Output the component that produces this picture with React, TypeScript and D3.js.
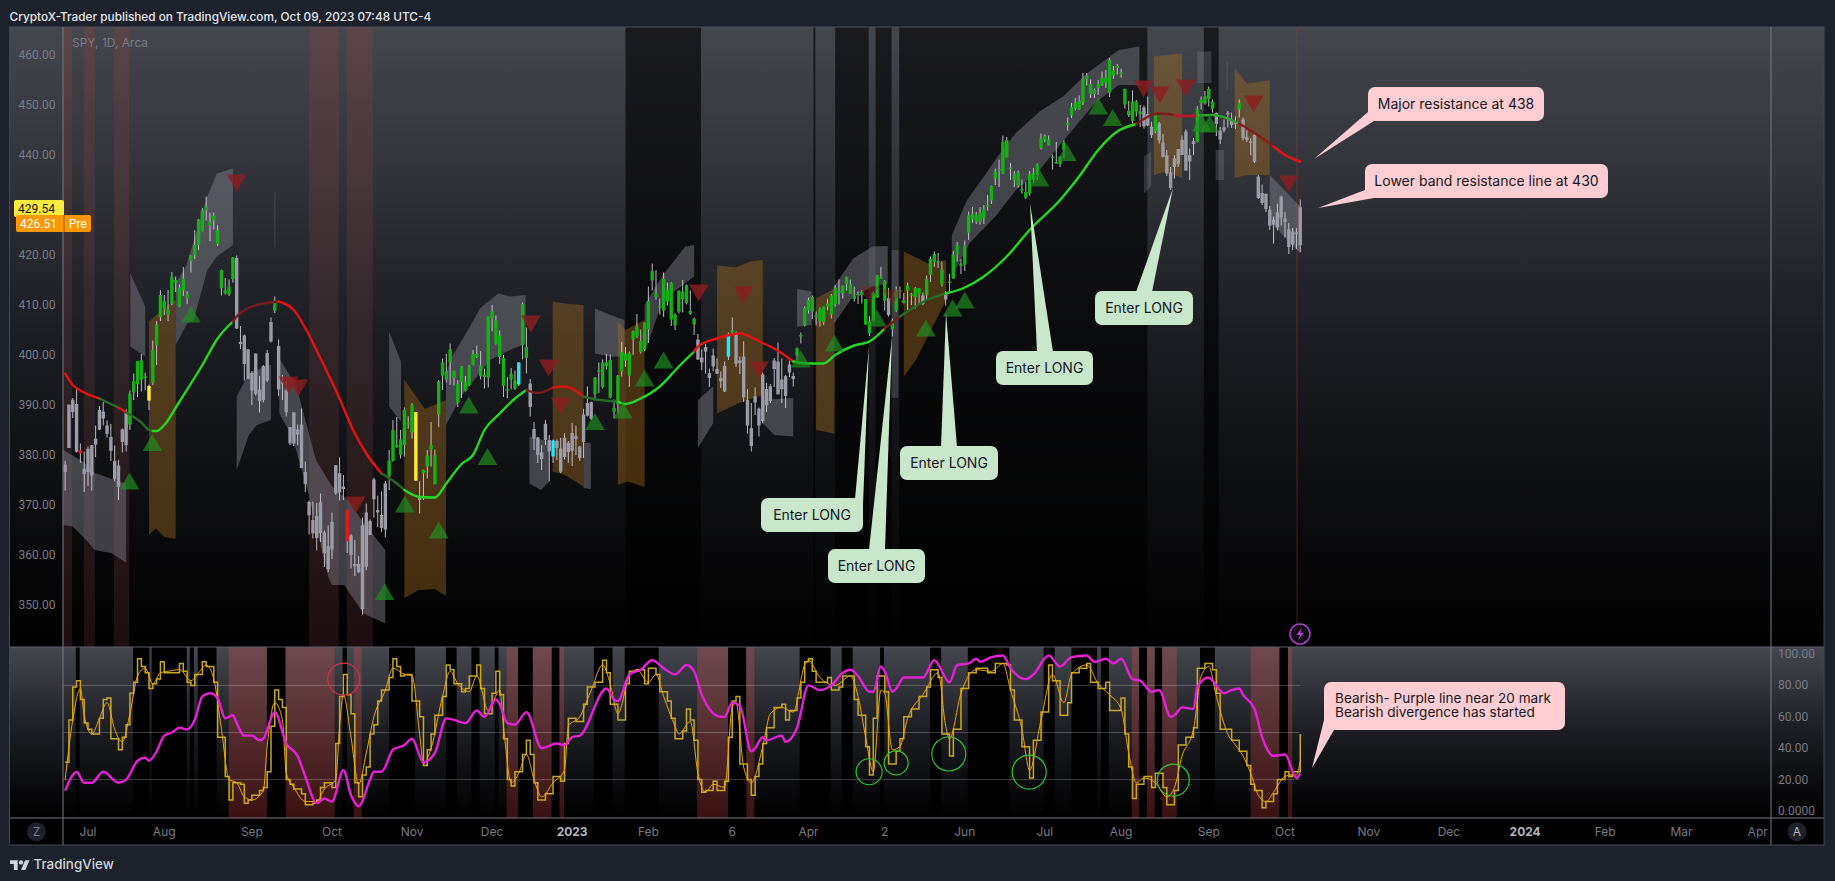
import React from "react";
import * as d3 from "d3";

type P = [number, number];
type Band = { top: P[]; bottom: P[]; tone: "grey" | "orange" | "faint" };

// ---- daily candles [open, high, low, close], bar numbers start at -6 (Jun 23 2022), 0 = Jul 1 2022
const barsJun22 = [[376.6,378.8,372.9,378.06],[381.4,390.1,381.4,390.08],[391.05,391.4,387.4,388.59],[390.2,393.2,380.5,380.65],[381,382.3,378.4,380.34],[376.2,380.7,372.6,377.25]];
const barsJul22 = [[376.6,381.7,373.8,381.24],[375.9,381.98,372.9,381.96],[382.1,385.9,379.6,383.25],[385.1,389.8,385,388.99],[387.3,390.6,385.9,388.67],[385.9,386.9,383.5,384.23],[383.6,386.2,378.8,380.83],[375.1,381.9,374.7,378.83],[373.6,379.05,371,377.91],[382.6,385.3,380.5,385.13],[388.4,389.1,380.7,381.95],[386.1,392.9,385,392.27],[392.5,396.3,391,394.77],[394.2,398.8,391.6,398.79],[398.9,400.2,392.7,395.09],[395.7,396.5,393,395.57],[393.8,394.1,389,390.89],[394.4,402.9,394,401.04],[401.9,406.8,398,406.07],[407.6,413,406.8,411.99]];
const barsAug22 = [[409.2,412,408,410.77],[409.1,413,406.8,408.06],[410.3,416.6,410,415.63],[415,415.7,412.6,414.45],[409.7,414.1,409.6,413.47],[415.3,417.6,411.8,412.99],[412.2,412.75,410.2,411.35],[418.8,420,416.5,419.99],[422,424.95,419.2,419.99],[422,427.2,421,427.1],[424.8,429.4,424.7,428.86],[429,431.7,426.9,429.7],[425.9,428.5,422.8,426.65],[426.9,428.5,425.1,427.89],[424.98,426,421.8,422.14],[417,417.1,411.9,413.35],[412.9,415.4,412.1,412.35],[412.1,415.1,411.8,413.67],[415.2,419.6,414.5,419.51],[419.4,419.9,405.2,405.31],[402.2,405.8,401.2,402.63],[403.9,404.1,394.9,398.21],[401.1,401.2,395.6,395.18]];
const barsSep22 = [[392.9,396.8,390,396.42],[400.3,400.3,391.9,392.24],[393.1,395.8,388.5,390.76],[391,398,390.5,397.78],[394.9,401,394.6,400.38],[402.7,407.5,402.5,406.6],[408.8,411.7,408.4,410.97],[401.8,403.1,391.8,393.1],[394.5,396,391,394.6],[392.96,394.7,387.7,388.55],[382.3,385.6,382,385.56],[382.3,388.5,381.8,388.55],[385.1,386.1,382,384.09],[386.1,389.3,377.4,377.39],[376.6,378.7,372.6,374.22],[370.6,370.9,364.1,367.95],[367,370.7,363.3,364.31],[367.8,370.4,360.9,363.38],[364.4,372.3,362.6,370.53],[364.5,364.9,357.6,360.38],[361.8,365.9,356.6,357.18]];
const barsOct22 = [[361.1,368.5,359.2,366.61],[372.4,378,372,377.97],[372.5,379.5,370.9,376.35],[373.7,376,371,373.2],[368.96,368.96,360.4,362.79],[363.9,364.2,357.3,360.02],[358.2,363,355.8,357.74],[358.2,359.8,356.4,356.56],[349.2,367.5,348.1,365.97],[368.5,370.3,356.96,357.63],[364,367.1,364,366.82],[375.1,375.45,367.5,371.13],[368.98,371.85,365.6,368.5],[368,372.7,364.6,365.41],[365.1,374.8,363.5,374.29],[375.9,381,373,378.87],[378.8,387,378.7,384.92],[381.6,387.6,381.4,382.02],[383.1,385,379.3,379.98],[382,389.5,379.7,389.02],[386.4,387.75,385.3,386.21]];
const barsNov22 = [[390.1,390.4,383.3,384.52],[388.6,388.6,374.8,374.87],[371.5,374.8,368.3,371.01],[377,377.1,371,376.35],[377.7,381,375.3,379.95],[381.1,386.6,377.7,382],[379.9,381.1,374.5,374.13],[388,395,385.6,394.69],[395.9,399.3,393,398.51],[396.7,400.2,394.5,395.12],[401.1,402.3,394,398.49],[396.8,396.9,393.9,395.45],[390.5,394.95,389.6,394.24],[397.7,397.8,391.4,394.59],[394.6,395.8,392.7,392.83],[394,397.95,393.8,397.7],[398,401,397.9,400.2],[399.6,401.9,399.4,400.22],[397.9,400.8,395.1,395.75],[396.1,397.3,393.3,395.6],[395.5,407.7,393.5,407.68]];
const barsDec22 = [[408.8,410,404.8,407.38],[402.3,407.9,402.1,406.91],[403.95,404.9,398.2,399.59],[399.4,399.99,391.6,393.83],[392.9,395.6,391.4,393.16],[395.1,397.4,393.15,396.24],[394.9,396.9,393,393.28],[394.1,398.6,393.8,398.51],[410.2,410.5,399.1,401.97],[401.6,405.5,396.3,399.4],[394.3,395.2,387.7,389.63],[385.2,386.6,381,383.27],[383.5,383.6,378.4,380.02],[379.2,382,377,380.54],[383,387,382,386.23],[383,384,374.8,380.72],[379.7,383.1,378.4,382.91],[382.8,383.1,379,381.4],[381.3,383.4,376.4,376.66],[379.6,384.35,379.1,383.44],[380.6,382.8,378.4,382.43]];
const barsJan23 = [[384.4,386.4,377.8,380.82],[383.2,385.9,380,383.76],[381.7,381.8,378.8,379.38],[382.6,389.25,379.4,388.08],[390.4,393.7,387.7,387.86],[387.25,390.7,386.98,390.58],[392.2,395.6,391.4,395.52],[396.7,398.5,392.4,396.96],[393.6,399.1,393.3,398.5],[398.5,400.2,397.1,397.77],[399,400.1,391.3,391.49],[389.4,391.1,387.3,388.64],[390.1,396,388.4,395.88],[396.7,402.6,395.7,400.63],[398.9,401.6,397.6,400.2],[395.9,400.7,393.6,400.35],[403.1,404.9,400,404.75],[403.7,408.2,403.4,405.68],[402.8,405.1,400.3,400.59],[401.1,406.5,400.8,406.48]];
const barsFeb23 = [[405.2,413.7,402.4,410.8],[414.9,418.3,412.9,416.78],[411.6,416.97,411.1,412.35],[409.8,411.3,408.1,409.83],[408.9,416.5,407.6,415.19],[413.1,414.5,409.9,410.65],[414.4,414.6,405.8,407.09],[405.9,408.4,405,408.04],[408.7,412.97,408.3,412.83],[411.2,415,408.5,412.64],[410.4,414.1,410.1,413.98],[408.8,412.9,408,408.28],[406.1,407.5,404,407.26],[403.1,404.2,399,399.09],[399.5,401.1,397,398.54],[401.6,402.2,396.3,400.66],[395.4,397.3,393.6,396.38],[399.9,401.3,396.75,397.73],[397.2,399.3,396.2,396.26]];
const barsMar23 = [[395.4,396.7,393.4,394.74],[392.7,398.7,392.6,397.81],[399.7,404.5,399,404.19],[405,407.5,404,404.47],[404.4,404.7,397.6,398.27],[398.4,399.7,396.2,398.92],[399.7,402.7,390.6,391.56],[390.99,393.2,384.3,385.91],[381.8,390.4,380.7,385.36],[390.5,393.5,388,391.73],[385.9,389.5,383.7,389.28],[386.8,396.5,386.3,396.11],[393.2,394.4,388.6,389.99],[390.8,394.2,390.4,393.74],[397.2,399.4,393.6,398.91],[398.7,402.5,392.6,392.11],[395.1,399.3,390.4,393.17],[391.8,396,389.4,395.75],[398.1,398.9,395.6,396.49],[395.8,396.5,393.7,395.17],[399.9,401.5,398.9,401.35],[404,404.5,402.3,403.7],[405.9,409.7,405.7,409.39]];
const barsApr23 = [[408.9,411.5,408.3,410.95],[411.6,411.9,407.2,408.67],[407.9,408.7,405.9,407.6],[406.8,409.5,405.7,409.19],[406.6,409.7,405.97,409.61],[410.3,411.2,408.9,409.72],[411.9,412.2,407.3,408.05],[410.1,413.96,409.7,413.47],[412.8,415.1,410.1,412.46],[412.4,413.9,411.3,413.94],[415.6,415.7,412.9,414.21],[412.2,415.1,412.2,414.14],[411.2,413.7,410.7,411.88],[412.2,412.7,410.2,412.2],[411.99,413,410.3,412.63],[411.2,411.2,406.1,406.08],[406.7,407.8,403.8,404.36],[407,412.7,406.7,412.41],[411.5,415.9,411.4,415.93]];
const barsMay23 = [[415.5,417.6,415.3,415.51],[414.8,414.97,408.9,410.84],[411.4,413.4,407.7,408.02],[406.9,407.3,403.7,405.13],[408.9,413.7,408.6,412.63],[412.97,413.7,411.3,412.87],[410.4,412.4,410.3,410.93],[413.9,414.5,408.9,412.85],[411.95,412.4,409.97,412.13],[413.4,413.6,409.3,411.59],[412.2,413.4,410.2,413.35],[411.9,412.5,409.97,410.2],[412,415.9,411.1,415.22],[416,419.7,414.6,419.23],[420.2,420.7,417.6,418.62],[418.6,420.4,417.4,418.79],[417.1,418.7,413.7,414.09],[412.4,412.8,409.9,411.09],[414.7,416.2,412.4,414.65],[415.3,420.8,415.2,420.02],[422,422.6,418.7,420.18],[418.3,419.2,416.2,417.85]];
const barsJun23 = [[418.1,422.9,416.8,421.82],[424.5,428.7,423,427.92],[428.3,429.6,426.4,427.1],[426.7,428.6,426.2,428.03],[428.4,429.6,426.1,426.55],[427.4,430,426.2,429.13],[429.96,431.99,428.9,429.9],[430.9,433.9,430.2,433.8],[435.3,437.3,434,436.66],[437,439.06,433.6,437.18],[436.3,443.9,436.2,442.6],[443,443.6,439.6,439.46],[437.5,438.4,435,437.18],[436.2,436.8,433.6,434.94],[433.9,436.9,433.5,436.51],[432.9,435.1,432.3,433.21],[432.6,434.6,431.2,431.44],[432.3,436.8,431.9,436.17],[435.05,437.4,434.4,436.39],[435.96,438.3,435,438.11],[441.4,444.3,441.1,443.28]];
const barsJul23 = [[442.9,444.1,442.6,443.79],[441.9,443.9,441.9,443.13],[439.4,440.1,437.1,439.66],[438.6,442.6,438.3,438.55],[438.2,439.8,437.6,439.66],[441,442.97,439.4,442.46],[446.4,447.5,444.9,446.02],[447.9,450.4,447.4,449.56],[450.5,451.4,448.9,449.28],[449.1,451.9,449,450.84],[450.5,456.4,450,455.2],[455.9,456.4,453.9,455.2],[454.2,455.1,451.4,452.18],[453,453.3,451.4,452.18],[453.4,455,452,454.2],[453.9,456.7,453.8,455.44],[454.5,456.99,453.4,455.51],[459,459.4,451.6,452.49],[455.9,457.8,455.2,456.92],[457.4,458.2,456.1,457.79]];
const barsAug23 = [[456.3,457.25,455.5,456.48],[453.2,453.3,449.3,450.13],[448,450.8,447.6,448.84],[450.7,452.9,446.3,446.81],[448.7,451,447.7,450.71],[448.1,450,445.6,448.75],[449.5,449.9,445.3,445.75],[448.2,451.7,445.8,445.91],[443.97,446.7,443.4,445.65],[444.7,448.1,444.38,448.11],[446.3,446.6,442.3,442.89],[442.5,444.2,439.5,439.64],[439.95,441,435.8,436.29],[433.4,437.6,433,436.5],[437.6,439.97,435.3,439.34],[441.2,441.2,437.6,438.15],[440,443.9,439.97,443.03],[444.7,445.1,436.9,436.89],[438.7,441.3,435,439.97],[442.2,443.4,439.97,442.76],[442.6,449.8,442.5,449.16],[450.4,451.7,449.1,451.01],[451.7,452.8,450.1,450.35]];
const barsSep23 = [[453.2,453.7,449.7,451.19],[450.7,451.1,448.5,449.24],[448.4,448.5,443.8,446.22],[443.1,445.6,442.2,444.85],[444.9,447.1,444.5,445.52],[448.2,448.8,445.5,448.45],[446.95,448.5,445.4,445.99],[446.2,447.7,445.2,446.51],[449.1,451.1,447.5,450.36],[447.1,447.5,442.9,443.37],[443,444.97,442.6,443.63],[442.7,443.3,439.97,442.71],[444,444.4,438.4,438.64],[435.7,435.97,431.2,431.39],[432.4,434.1,430,430.42],[429.2,432.3,428.6,432.23],[429.1,429.8,425,425.88],[427.1,427.7,422.3,426.05],[425.5,430.25,424.9,428.52],[431.7,431.85,425.9,427.48]];
const barsOct23 = [[426.6,428.6,423.5,427.31],[425.1,426.4,420.2,421.59],[422.1,425.4,420.98,424.66],[424.4,425.4,421.2,424.5],[421.97,431.1,420.6,429.54]];
const allBars = [barsJun22,barsJul22,barsAug22,barsSep22,barsOct22,barsNov22,barsDec22,barsJan23,barsFeb23,barsMar23,barsApr23,barsMay23,barsJun23,barsJul23,barsAug23,barsSep23,barsOct23].flat();
const FIRST_BAR = -6;

const greenRanges: P[] = [[11,15],[17,38],[49,49],[79,85],[88,112],[114,115],[133,159],[169,169],[186,209],[211,218],[220,224],[226,276],[280,280],[291,295],[302,302]];
const yellowBars = [16, 86];
const cyanBars = [113, 122, 168];
const redBars = [-2, 68];

// ---- trend line pieces
const trendRed1: P[] = [[-6,396.3],[-4,394],[-1,392.5],[3,391.3]];
const trendFade1: P[] = [[3,391.3],[6,390.2],[8,389.5]];
const trendRed2: P[] = [[8,389.5],[10,388.5]];
const trendFade2: P[] = [[10,388.5],[14,386.5],[16,385],[17,384.8]];
const trendGreen1: P[] = [[17,384.8],[18,384.8],[20,386],[24,390.7],[30,398],[34,403.3],[38,406.7]];
const trendDim1: P[] = [[38,406.7],[39,407.7],[43,409.7],[50,410.7]];
const trendRed3: P[] = [[50,410.7],[54,409],[57,405.4],[61,399.3],[65,393],[70,384.3],[73,380.3],[77,376.3]];
const trendFade3: P[] = [[77,376.3],[81,374.3],[83,373]];
const trendGreen2: P[] = [[83,373],[87,371.6],[91,371.5],[94,374.3],[98,378.2],[101,380],[104,385],[108,388.3],[112,391.3],[115,393]];
const trendDim2: P[] = [[115,393],[118,392.4],[122,393.5]];
const trendRed4: P[] = [[122,393.5],[125,393.7],[130,391.7]];
const trendFade4: P[] = [[130,391.7],[132,391.3],[139,390.7]];
const trendGreen3: P[] = [[139,390.7],[141,390.2],[145,391.3],[150,393.7],[155,397.7],[159,400.7]];
const trendRed5: P[] = [[159,400.7],[160,401.7],[165,403.3],[171,404.3],[177,402.4],[180,401.3],[185,398.7]];
const trendGreen4: P[] = [[185,398.7],[189,398.3],[193,398.3],[196,400],[201,401.9],[205,402.7],[209,405.3]];
const trendDim3: P[] = [[209,405.3],[213,407.7]];
const trendFade5: P[] = [[213,407.7],[217,409.7],[221,411.3],[225,412.3]];
const trendGreen5: P[] = [[225,412.3],[230,413.5],[235,415.7],[241,419.7],[247,425],[255,431],[260,435.7],[265,441],[270,444.7],[275,446.2]];
const trendDim4: P[] = [[275,446.2],[281,448.3],[285,448]];
const trendRed7: P[] = [[285,448],[287,447.8],[291,447.9]];
const trendGreen6: P[] = [[291,447.9],[295,448],[302,446.3]];
const trendDim5: P[] = [[302,446.3],[306,444.4],[311,441.7]];
const trendRed6: P[] = [[311,441.7],[314,440],[318,438.7]];
const trendPieces: [P[], string][] = [
  [trendRed1,"#e61212"],[trendFade1,"#2a6e2a"],[trendRed2,"#e61212"],[trendFade2,"#256b25"],[trendGreen1,"#24d824"],[trendDim1,"#7a1c1c"],[trendRed3,"#e61212"],[trendFade3,"#256b25"],[trendGreen2,"#24d824"],[trendDim2,"#7a1c1c"],[trendRed4,"#d81414"],[trendFade4,"#256b25"],[trendGreen3,"#24d824"],[trendRed5,"#e61212"],[trendGreen4,"#24d824"],[trendDim3,"#7a1c1c"],[trendFade5,"#256b25"],[trendGreen5,"#24d824"],[trendDim4,"#7a1c1c"],[trendRed7,"#c41424"],[trendGreen6,"#2aa52a"],[trendDim5,"#8f1a1a"],[trendRed6,"#e61212"],
];

// ---- band fragments
const bands: Band[] = [
  { tone:"grey", top:[[-6.5,381],[-1.3,378.7],[1.8,376.4],[7,375],[10,374.3]], bottom:[[-6.5,366],[-4,365.7],[-1.3,363.7],[1.8,361],[6,360.4],[10,358.5]] },
  { tone:"grey", top:[[11.1,416.3],[15,409.7]], bottom:[[11.1,401.7],[15,399.7]] },
  { tone:"grey", top:[[23,414.3],[25.7,417.7],[31.3,431.7],[33.8,436.3],[38,437.3]], bottom:[[23,402],[26,406.3],[27.7,407],[31.3,417],[33.8,419.7],[38,422]] },
  { tone:"orange", top:[[16,406.7],[20.5,409.7],[23,411]], bottom:[[16,364],[17.8,365.3],[20,363.6],[23,363.2]] },
  { tone:"grey", top:[[39,391.7],[42.2,396.3],[47.4,398],[48,398]], bottom:[[39,377],[42.2,384],[44.3,386],[48,387]] },
  { tone:"faint", top:[[48.9,432.5],[49.15,432.5]], bottom:[[48.9,421.5],[49.15,421.5]] },
  { tone:"grey", top:[[50.2,399.3],[54.7,393.7],[59.8,379],[64,373.7],[68.2,371],[72.3,366.4],[78,361]], bottom:[[50.2,388.3],[53.6,383.7],[57.8,372.3],[63,355.7],[64,354],[67.2,354],[72.3,348.3],[78,346.3]] },
  { tone:"grey", top:[[79,404.7],[82.1,398.7]], bottom:[[79,389.7],[82.1,386.7]] },
  { tone:"orange", top:[[83,395],[88.4,389.2],[93.9,391]], bottom:[[83,351.4],[86.8,353],[91,353.2],[93.9,351.8]] },
  { tone:"grey", top:[[93.9,396],[95,399],[100.2,405.7],[102.8,409.3],[107.6,412.3],[110.7,411.7],[114.8,412]], bottom:[[93.9,386],[98.1,392],[105.5,399],[110.7,401],[114.8,402.3]] },
  { tone:"grey", top:[[115.8,383.7],[121,382.7]], bottom:[[115.8,374.3],[118.8,373],[121,374.7]] },
  { tone:"orange", top:[[121.9,410.7],[125,410.3],[130,410]], bottom:[[121.9,376.7],[125.1,376],[130,373.7]] },
  { tone:"grey", top:[[130,382.4],[131.9,382.4]], bottom:[[130,373.4],[131.9,373.2]] },
  { tone:"grey", top:[[133,409.3],[137.1,408],[140.7,407]], bottom:[[133,400.3],[137.1,399.7],[140.7,399.7]] },
  { tone:"orange", top:[[139,406.7],[141,405],[146,407]], bottom:[[139,374],[141.6,374.7],[146,373.6]] },
  { tone:"grey", top:[[146,410],[150.8,416],[156.7,421.7],[159,422]], bottom:[[146,400.3],[150.8,411],[159,415.7]] },
  { tone:"grey", top:[[160,391],[164,393.7]], bottom:[[160,381.4],[164,386.4]] },
  { tone:"orange", top:[[165,417.9],[170,417.5],[173.7,418.7],[177,419]], bottom:[[165,388.3],[171.6,390.7],[177,392]] },
  { tone:"grey", top:[[177,391],[185,391.4]], bottom:[[177,386.4],[180,384],[185,383.7]] },
  { tone:"grey", top:[[186,413.2],[189.8,412.7]], bottom:[[186,405.7],[189.8,406]] },
  { tone:"orange", top:[[191,411.3],[195.8,413.3]], bottom:[[191,385],[195.8,384.3]] },
  { tone:"grey", top:[[195.7,413.7],[200.7,419.3],[205.8,421.7],[209.8,421.8]], bottom:[[195.7,406.3],[200.7,411.7],[205.8,413.7],[209.8,414.3]] },
  { tone:"faint", top:[[210.8,421],[212.6,421]], bottom:[[210.8,391.4],[212.6,391.4]] },
  { tone:"orange", top:[[214,420.7],[220.4,418.3],[225.1,419]], bottom:[[214,395.7],[217.2,399],[225.1,411]] },
  { tone:"grey", top:[[226.6,424],[230.6,431],[235.3,436],[239.2,440.3],[243.4,444.4],[249.6,448.7],[255.8,451.7],[262,456.3],[270.4,461],[275.8,461.7]], bottom:[[226.6,415.7],[231.3,422.4],[238,427.7],[243.4,433],[249.6,437],[256.8,443.7],[264.2,450.4],[270.4,454],[275.8,454]] },
  { tone:"faint", top:[[277,439.7],[278.9,440.7]], bottom:[[277,432.3],[278.9,433.7]] },
  { tone:"orange", top:[[279.6,459.7],[282.8,460],[287,460.3]], bottom:[[279.6,436],[282.8,436.7],[287,435.4]] },
  { tone:"faint", top:[[291,460.7],[294.7,460.7]], bottom:[[291,454.4],[294.7,454.4]] },
  { tone:"faint", top:[[295.8,441],[298,441]], bottom:[[295.8,435],[298,435]] },
  { tone:"faint", top:[[298.7,458.7],[298.95,458.7]], bottom:[[298.7,453],[298.95,453]] },
  { tone:"orange", top:[[300.8,457.4],[304,454.3],[310,454.9]], bottom:[[300.8,435.4],[304,436],[310,436]] },
  { tone:"grey", top:[[310,436],[318,429.7]], bottom:[[310,427],[314,423.5],[318,420.3]] },
];

// ---- signal triangles [bar, price]
const upSignals: P[] = [[10.9,374.8],[16.9,382.5],[27,408.2],[77.8,352.7],[83.1,370.2],[92,365],[99.9,390],[104.8,379.7],[133,386.7],[140.3,389],[146,395.4],[151,399],[187,399.2],[195.8,402.4],[206.9,407.4],[219.8,405.4],[226.8,409.4],[230,411],[249.6,435.4],[256.8,440.5],[265,449.8],[268.8,447.5],[292.1,446.4],[294.2,446.2]];
const downSignals: P[] = [[39,434.4],[52.6,394],[55.2,393.4],[70.2,370],[116.2,406.2],[120.8,397.4],[124,389.8],[160.2,412.4],[172,412],[176,397],[276.9,453.2],[281.2,452],[288,453.4],[305.8,450.2],[315,434.2]];
const fadedDownSignals: P[] = [[204.8,412],[211,411.4]];

// ---- background strips [from bar, to bar]
const mainRedStrips: P[] = [[-6.6,-4.2],[-1.1,1.8],[6.8,10.8],[58,65.8],[67.9,74.7]];
const mainDarkStrips: P[] = [[141,160.8],[190.3,190.8],[196,204.8],[206.6,210.8],[212.8,277.9],[292.7,296.6]];
const subBlackStrips: P[] = [[-3.2,-2.2],[11.8,16.1],[16.7,25.9],[26.7,27.8],[28.8,33.7],[46.9,51.8],[66.8,67.9],[79,85.8],[93.9,96.7],[100.6,102.7],[106.7,107.7],[112.8,116.7],[121.6,123.7],[132.7,137.6],[140.8,149.7],[167.9,172.7],[186.7,194.8],[197.7,200.6],[207.8,208.8],[220.9,223.8],[230.8,241.7],[250.7,253.6],[258,264.7],[265.7,267.8],[275.7,277.8],[279.8,281.8],[291.7,295.6],[312.5,314.8]];
const subRedStrips: P[] = [[36.9,46.9],[51.9,64.7],[69.7,71.8],[109.8,112.8],[116.7,121.6],[123.7,124.9],[159.8,167.9],[172.7,174.8],[273.8,275.7],[277.8,279.8],[281.8,285.6],[305,312.5],[314.8,315.9]];

// ---- oscillator
const stochStep: P[] = [[-6,31],[-5,58],[-4,79],[-3,83],[-2,71],[-1,56],[0,52],[1,49],[3,59],[4,71],[5,72],[6,46],[8,39],[9,47],[10,55],[11,75],[12,82],[13,97],[14,92],[15,88],[16,78],[17,81],[18,84],[19,95],[20,88],[22,88],[24,94],[25,89],[26,82],[27,80],[28,87],[30,95],[31,92],[33,82],[34,47],[36,22],[37,7],[38,18],[40,17],[41,5],[42,7],[43,10],[45,13],[46,15],[47,25],[48,54],[49,77],[50,71],[51,66],[52,20],[53,17],[54,14],[56,11],[57,4],[59,5],[60,7],[61,15],[62,18],[64,15],[65,43],[66,73],[67,87],[68,74],[69,62],[70,18],[71,9],[72,23],[73,28],[74,49],[75,55],[76,70],[77,77],[79,85],[80,97],[81,92],[82,86],[83,87],[85,70],[87,60],[88,29],[89,39],[90,49],[91,61],[93,73],[94,93],[95,90],[96,81],[98,76],[99,78],[100,86],[102,93],[103,78],[104,62],[106,75],[107,89],[108,74],[109,46],[110,20],[111,16],[112,25],[114,36],[115,45],[116,36],[117,18],[118,7],[120,11],[122,22],[124,19],[125,43],[126,59],[128,57],[130,68],[131,79],[133,82],[135,96],[136,88],[137,68],[139,58],[141,81],[142,89],[144,90],[146,81],[147,91],[149,87],[150,76],[152,70],[153,59],[154,46],[156,51],[157,65],[158,58],[159,45],[160,20],[161,12],[162,13],[164,19],[165,13],[167,19],[168,47],[169,70],[170,73],[171,30],[173,20],[174,10],[175,22],[176,30],[177,43],[178,53],[180,66],[182,68],[183,58],[184,64],[186,72],[187,82],[188,95],[189,97],[190,89],[191,82],[194,85],[195,77],[197,79],[198,86],[200,86],[201,71],[202,61],[204,41],[205,23],[206,59],[207,86],[209,76],[210,30],[212,38],[213,46],[214,60],[216,65],[218,73],[220,79],[221,90],[223,85],[224,49],[226,35],[227,52],[229,78],[231,88],[233,91],[236,88],[238,94],[241,93],[242,77],[243,58],[245,41],[247,21],[248,45],[250,63],[252,93],[253,83],[255,61],[257,69],[258,88],[260,91],[262,94],[263,82],[265,78],[267,82],[268,64],[271,72],[272,49],[273,28],[274,8],[275,17],[277,22],[279,15],[280,24],[282,15],[283,4],[285,13],[286,42],[288,47],[290,53],[291,91],[293,94],[295,90],[296,75],[297,52],[300,45],[302,38],[304,29],[305,17],[306,13],[308,2],[309,6],[311,11],[312,20],[314,25],[315,22],[316,25],[318,49]];
const stochSmooth: P[] = [[-6,20],[-4,58],[-2,78],[-1,61],[1,49],[3,59],[5,69],[7,52],[9,44],[11,62],[13,86],[15,91],[17,81],[19,88],[21,89],[24,90],[27,83],[29,88],[31,93],[33,84],[35,52],[37,20],[39,18],[41,9],[43,7],[46,13],[47,41],[49,69],[51,58],[52,24],[54,15],[57,6],[60,6],[62,14],[65,20],[66,54],[67,74],[69,47],[71,17],[73,37],[75,60],[78,77],[80,91],[83,87],[85,86],[87,49],[88,30],[90,40],[93,73],[95,89],[97,81],[100,76],[102,86],[105,64],[108,77],[109,54],[111,18],[113,24],[115,36],[117,20],[119,9],[122,18],[125,26],[126,54],[129,60],[132,77],[135,93],[137,81],[139,62],[142,86],[144,90],[147,82],[149,87],[151,73],[154,54],[155,49],[158,57],[160,24],[162,12],[164,17],[167,15],[169,66],[170,69],[172,28],[174,18],[177,41],[179,62],[182,66],[185,63],[188,93],[189,96],[192,85],[196,80],[200,86],[202,73],[204,47],[206,25],[208,77],[209,75],[211,39],[213,41],[215,59],[219,74],[223,88],[225,54],[226,46],[229,75],[233,90],[237,89],[240,94],[242,77],[245,52],[247,26],[250,58],[253,87],[256,69],[258,87],[262,93],[265,81],[268,74],[271,65],[273,37],[275,18],[277,21],[280,18],[283,9],[285,15],[287,35],[290,52],[292,86],[294,92],[296,73],[299,49],[301,42],[303,35],[305,24],[307,10],[309,6],[311,12],[314,22],[316,23],[317,23],[318,32]];
const rsiLine: P[] = [[-6,13],[-4,23],[-3,25],[-1,18],[1,18],[4,25],[8,18],[10,20],[13,32],[15,34],[16,32],[18,38],[20,48],[22,50],[24,53],[26,52],[28,58],[30,73],[32,75],[34,72],[36,59],[38,61],[39,56],[41,48],[43,48],[45,45],[46,46],[49,63],[52,43],[55,35],[57,22],[60,5],[62,8],[64,6],[67,26],[69,10],[71,3],[74,20],[75,25],[77,25],[80,39],[83,42],[85,46],[88,31],[91,37],[94,59],[96,58],[99,56],[102,64],[104,60],[107,71],[108,68],[110,56],[112,55],[115,63],[119,40],[123,43],[125,42],[127,47],[129,48],[136,78],[138,71],[139,70],[142,87],[145,90],[148,96],[151,91],[154,87],[157,93],[159,89],[161,74],[166,60],[167,60],[169,69],[171,67],[174,38],[175,40],[177,47],[178,45],[182,48],[183,44],[186,53],[189,80],[192,77],[195,80],[198,88],[200,90],[202,86],[205,76],[206,76],[208,92],[209,89],[211,76],[212,78],[214,85],[219,85],[222,96],[226,82],[228,93],[231,94],[233,97],[234,95],[237,98],[240,99],[242,91],[246,84],[248,87],[252,99],[255,92],[258,98],[262,99],[264,95],[267,97],[269,94],[271,97],[274,84],[276,83],[279,76],[281,77],[284,60],[285,61],[287,66],[290,65],[291,79],[294,85],[295,83],[298,75],[300,77],[302,78],[303,74],[306,65],[308,47],[311,35],[314,36],[317,21],[318,24]];
const oscLevels = [80, 50, 20];
const oscTicks = ["100.00", "80.00", "60.00", "40.00", "20.00", "0.0000"];
const oscTickValues = [100, 80, 60, 40, 20, 0];
const buyCircles: [number, number, number][] = [[204.9,25,13],[212,30.6,12],[225.8,36.3,17],[246.9,24.8,17],[284.7,19.7,16]];
const sellCircles: [number, number, number][] = [[67.1,84,16]];

// ---- axes
const priceTicks = [460,450,440,420,410,400,390,380,370,360,350];
const timeLabels: [number, string, boolean][] = [[0,"Jul",false],[20,"Aug",false],[43,"Sep",false],[64,"Oct",false],[85,"Nov",false],[106,"Dec",false],[127,"2023",true],[147,"Feb",false],[169,"6",false],[189,"Apr",false],[209,"2",false],[230,"Jun",false],[251,"Jul",false],[271,"Aug",false],[294,"Sep",false],[314,"Oct",false],[336,"Nov",false],[357,"Dec",false],[377,"2024",true],[398,"Feb",false],[418,"Mar",false],[438,"Apr",false]];

const FONT = "Inter, 'Noto Sans', sans-serif";
const NUM_FONT = "Roboto, Inter, sans-serif";
const W = 1835, H = 881;
const L = { left: 9.5, axisL: 63, axisR: 1771, right: 1824, top: 27, mainB: 647, subB: 818, timeB: 845 };

const x = d3.scaleLinear().domain([0, 314]).range([88, 1285]);
const yMain = d3.scaleLinear().domain([460, 350]).range([55, 605]);
const yOsc = d3.scaleLinear().domain([0, 100]).range([811, 654]);

const inRanges = (i: number) => greenRanges.some(([a, b]) => i >= a && i <= b);
const barColor = (i: number) =>
  yellowBars.includes(i) ? "#ffeb3b" : cyanBars.includes(i) ? "#2fe3f7" : redBars.includes(i) ? "#e8151b" : inRanges(i) ? "#16b016" : "#9c9ca8";

const trendLine = d3.line<P>().x(d => x(d[0])).y(d => yMain(d[1])).curve(d3.curveMonotoneX);
const bandPath = (b: Band) => d3.line<P>().x(d => x(d[0])).y(d => yMain(d[1]))([...b.top, ...[...b.bottom].reverse()]) + "Z";
const oscLine = (curve: d3.CurveFactory) => d3.line<P>().x(d => x(d[0])).y(d => yOsc(d[1])).curve(curve);

function tri(cx: number, cy: number, up: boolean) {
  const w = 9.8, h = 8.5;
  return up
    ? `M${cx},${cy - h}L${cx + w},${cy + h}L${cx - w},${cy + h}Z`
    : `M${cx},${cy + h}L${cx + w},${cy - h}L${cx - w},${cy - h}Z`;
}

function Callout({ box, tail, fill, lines, anchor = "middle", tx, ty, size = 14 }: { box: [number, number, number, number]; tail: [number, number][]; fill: string; lines: string[]; anchor?: string; tx?: number; ty?: number; size?: number }) {
  const [bx, by, bw, bh] = box;
  return (
    <g fontFamily={FONT} fontSize={size} fill="#131722">
      <polygon points={tail.map(p => p.join(",")).join(" ")} fill={fill} />
      <rect x={bx} y={by} width={bw} height={bh} rx={7} fill={fill} />
      {lines.map((t, i) => (
        <text key={i} x={tx ?? bx + bw / 2} y={(ty ?? by + bh / 2 + 5) + i * 14} textAnchor={anchor as any}>{t}</text>
      ))}
    </g>
  );
}

export default function App() {
  const stripX = (a: number, b: number) => ({ x: x(a), width: x(b) - x(a) });
  return (
    <svg width={W} height={H} viewBox={`0 0 ${W} ${H}`} style={{ position: "absolute", left: 0, top: 0, display: "block" }}>
      <defs>
        <linearGradient id="paneBg" x1="0" y1="0" x2="0" y2="1">
          <stop offset="0" stopColor="#45474f" />
          <stop offset="0.5" stopColor="#1c1d22" />
          <stop offset="1" stopColor="#000" />
        </linearGradient>
        <linearGradient id="mainRed" x1="0" y1="0" x2="0" y2="1">
          <stop offset="0" stopColor="#5c4549" />
          <stop offset="0.5" stopColor="#31262a" />
          <stop offset="1" stopColor="#1f0e0f" />
        </linearGradient>
        <linearGradient id="subRed" x1="0" y1="0" x2="0" y2="1">
          <stop offset="0" stopColor="#70494f" />
          <stop offset="1" stopColor="#3a1110" />
        </linearGradient>
      </defs>
      <rect width={W} height={H} fill="#1e222d" />

      {/* panes */}
      <rect x={L.left} y={L.top} width={L.right - L.left} height={L.mainB - L.top} fill="url(#paneBg)" />
      <rect x={L.left} y={L.mainB} width={L.right - L.left} height={L.subB - L.mainB} fill="url(#paneBg)" />
      <rect x={L.left} y={L.subB} width={L.right - L.left} height={L.timeB - L.subB} fill="#000" />

      {/* main strips */}
      {mainDarkStrips.map(([a, b], i) => <rect key={i} {...stripX(a, b)} y={L.top} height={L.mainB - L.top} fill="#000" opacity={0.62} />)}
      {mainRedStrips.map(([a, b], i) => <rect key={i} {...stripX(a, b)} y={L.top} height={L.mainB - L.top} fill="url(#mainRed)" />)}

      {/* osc strips */}
      {subBlackStrips.map(([a, b], i) => <rect key={i} {...stripX(a, b)} y={L.mainB} height={L.subB - L.mainB} fill="#000" />)}
      {subRedStrips.map(([a, b], i) => <rect key={i} {...stripX(a, b)} y={L.mainB} height={L.subB - L.mainB} fill="url(#subRed)" />)}

      {/* bands */}
      {bands.map((b, i) => (
        <path key={i} d={bandPath(b)}
          fill={b.tone === "orange" ? "#a86e1e" : "#8a8b96"}
          opacity={b.tone === "orange" ? 0.4 : b.tone === "faint" ? 0.28 : 0.42} />
      ))}

      {/* session line */}
      <line x1={1297} x2={1297} y1={L.top} y2={L.mainB} stroke="#b43c3c" strokeOpacity={0.4} />

      {/* candles */}
      {allBars.map((d, k) => {
        const i = k + FIRST_BAR;
        const [o, h, l, c] = d;
        const top = yMain(Math.max(o, c));
        const bh = Math.max(1.5, Math.abs(yMain(o) - yMain(c)));
        return (
          <g key={k}>
            <line x1={x(i)} x2={x(i)} y1={yMain(h)} y2={yMain(l)} stroke="#d8d8e0" strokeOpacity={0.85} strokeWidth={1} />
            <rect x={x(i) - 1.7} y={top} width={3.4} height={bh} fill={barColor(i)} />
          </g>
        );
      })}

      {/* trend */}
      {trendPieces.map(([pts, color], i) => <path key={i} d={trendLine(pts)!} fill="none" stroke={color} strokeWidth={2.4} strokeLinecap="round" />)}

      {/* signals */}
      {upSignals.map(([b, p], i) => <path key={i} d={tri(x(b), yMain(p), true)} fill="#1f8f1f" opacity={0.68} />)}
      {downSignals.map(([b, p], i) => <path key={i} d={tri(x(b), yMain(p), false)} fill="#8f1d1f" opacity={0.8} />)}
      {fadedDownSignals.map(([b, p], i) => <path key={i} d={tri(x(b), yMain(p), false)} fill="#8f1d1f" opacity={0.4} />)}

      {/* oscillator */}
      {oscLevels.map(v => <line key={v} x1={L.axisL} x2={1300} y1={yOsc(v)} y2={yOsc(v)} stroke="#fff" strokeOpacity={0.22} />)}
      <path d={oscLine(d3.curveStepAfter)(stochStep)!} fill="none" stroke="#c8a820" strokeWidth={1.5} />
      <path d={oscLine(d3.curveMonotoneX)(stochSmooth)!} fill="none" stroke="#f2a50c" strokeWidth={1} />
      <path d={oscLine(d3.curveMonotoneX)(rsiLine)!} fill="none" stroke="#e81fd8" strokeWidth={2.4} />
      {buyCircles.map(([b, v, r], i) => <circle key={i} cx={x(b)} cy={yOsc(v)} r={r} fill="none" stroke="#2fc62f" strokeWidth={1.2} />)}
      {sellCircles.map(([b, v, r], i) => <circle key={i} cx={x(b)} cy={yOsc(v)} r={r} fill="none" stroke="#d0304a" strokeWidth={1.2} />)}

      {/* frame */}
      <g stroke="#5d606b" strokeWidth={1}>
        <line x1={L.left} x2={L.right} y1={L.top} y2={L.top} stroke="#4a4d58" />
        <line x1={L.left} x2={L.right} y1={L.mainB} y2={L.mainB} />
        <line x1={L.left} x2={L.right} y1={L.subB} y2={L.subB} stroke="#787b86" />
        <line x1={L.left} x2={L.right} y1={L.timeB} y2={L.timeB} stroke="#434651" />
        <line x1={L.left} x2={L.left} y1={L.top} y2={L.timeB} stroke="#434651" />
        <line x1={L.right} x2={L.right} y1={L.top} y2={L.timeB} stroke="#434651" />
        <line x1={L.axisL} x2={L.axisL} y1={L.top} y2={L.timeB} stroke="#787b86" />
        <line x1={L.axisR} x2={L.axisR} y1={L.top} y2={L.timeB} stroke="#787b86" />
      </g>

      {/* lightning marker */}
      <circle cx={1300} cy={634} r={10} fill="#120c16" stroke="#a040c0" strokeWidth={1.6} />
      <path d="M1302,627.5L1296.5,635H1300L1298,640.5L1303.8,632.8H1300.2Z" fill="#b24ad0" />

      {/* axes text */}
      <g fontFamily={NUM_FONT} fontSize={12} fill="#787b86">
        {priceTicks.map(t => <text key={t} x={55.5} y={yMain(t) + 4} textAnchor="end">{t.toFixed(2)}</text>)}
        {oscTickValues.map((t, i) => <text key={t} x={1778} y={yOsc(t) + 4}>{oscTicks[i]}</text>)}
      </g>
      <g fontFamily={FONT} fontSize={12} fill="#787b86">
        <text x={72} y={47}>SPY, 1D, Arca</text>
        {timeLabels.map(([b, s, bold], i) => (
          <text key={i} x={x(b)} y={836} textAnchor="middle" fontWeight={bold ? 700 : 400} fill={bold ? "#b2b5be" : "#787b86"}>{s}</text>
        ))}
      </g>

      {/* last price tags */}
      <g fontFamily={NUM_FONT} fontSize={12}>
        <rect x={14} y={200} width={50} height={17} rx={2} fill="#ffeb3b" />
        <text x={18} y={213} fill="#131722">429.54</text>
        <rect x={16} y={215} width={75} height={17} rx={2} fill="#ff9800" />
        <line x1={64} x2={64} y1={215} y2={232} stroke="#1e222d" strokeOpacity={0.5} />
        <text x={20} y={228} fill="#fff">426.51</text>
        <text x={69} y={228} fill="#fff">Pre</text>
      </g>

      {/* buttons */}
      <g fontFamily={FONT} fontSize={12} textAnchor="middle">
        <circle cx={36.4} cy={831.7} r={9.5} fill="#1e222d" />
        <text x={36.4} y={836} fill="#787b86">Z</text>
        <circle cx={1797} cy={831.7} r={9.5} fill="#1e222d" />
        <text x={1797} y={836} fill="#b2b5be">A</text>
      </g>

      {/* callouts */}
      <Callout box={[1368, 87, 176, 34]} tail={[[1368, 112], [1314, 159], [1374, 121]]} fill="#ffcdd2" lines={["Major resistance at 438"]} />
      <Callout box={[1365, 164, 243, 34]} tail={[[1365, 190], [1318, 208], [1374, 198]]} fill="#ffcdd2" lines={["Lower band resistance line at 430"]} />
      <Callout box={[761, 498, 102, 34]} tail={[[855, 499], [869, 347], [863, 505]]} fill="#c8e6c9" lines={["Enter LONG"]} />
      <Callout box={[828, 549, 97, 34]} tail={[[869, 550], [892, 337], [885, 550]]} fill="#c8e6c9" lines={["Enter LONG"]} />
      <Callout box={[900, 446, 98, 34]} tail={[[941, 447], [946, 313], [957, 447]]} fill="#c8e6c9" lines={["Enter LONG"]} />
      <Callout box={[996, 351, 97, 34]} tail={[[1037, 352], [1030, 203], [1053, 352]]} fill="#c8e6c9" lines={["Enter LONG"]} />
      <Callout box={[1095, 291, 98, 34]} tail={[[1136, 292], [1173, 188], [1152, 292]]} fill="#c8e6c9" lines={["Enter LONG"]} />
      <Callout box={[1324, 682, 241, 48]} tail={[[1324, 720], [1312, 768], [1334, 730]]} fill="#ffcdd2" lines={["Bearish- Purple line near 20 mark", "Bearish divergence has started"]} anchor="start" tx={1335} ty={703} size={13.6} />

      {/* header and footer */}
      <text x={9.5} y={20.5} fontFamily={FONT} fontSize={11.8} fontWeight={500} fill="#e4e6ec">CryptoX-Trader published on TradingView.com, Oct 09, 2023 07:48 UTC-4</text>
      <g transform="translate(10,858) scale(0.55)" fill="#d1d4dc">
        <path d="M14 22H7V11H0V4h14v18zM28 22h-8l7.5-18h8L28 22z" />
        <circle cx={20} cy={8} r={4} />
      </g>
      <text x={33.5} y={869} fontFamily={FONT} fontSize={13.4} fontWeight={500} fill="#d1d4dc">TradingView</text>
    </svg>
  );
}
